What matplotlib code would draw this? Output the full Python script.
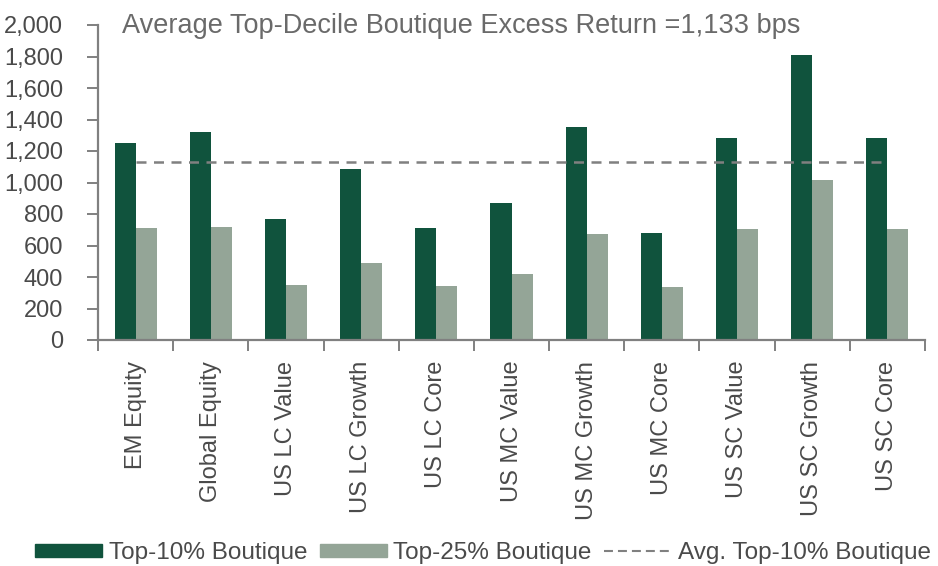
import matplotlib
matplotlib.use("Agg")
import matplotlib.pyplot as plt
import numpy as np
from matplotlib.lines import Line2D
from matplotlib.patches import Patch

categories = ["EM Equity", "Global Equity", "US LC Value", "US LC Growth", "US LC Core",
              "US MC Value", "US MC Growth", "US MC Core", "US SC Value", "US SC Growth", "US SC Core"]
top10 = [1250, 1320, 770, 1085, 710, 870, 1355, 680, 1285, 1810, 1285]
top25 = [710, 720, 350, 490, 340, 420, 670, 335, 705, 1015, 705]
avg_top10 = 1133
yticks = [0, 200, 400, 600, 800, 1000, 1200, 1400, 1600, 1800, 2000]

plt.rcParams["font.family"] = ["Liberation Sans", "DejaVu Sans"]

dark = "#10533d"
light = "#94a597"
grey = "#808080"
txt = "#4a4a4a"

fig = plt.figure(figsize=(9.38, 5.66), dpi=100)
ax = fig.add_axes([98/938, 1-340/566, (925-98)/938, (340-25)/566])

x = np.arange(len(categories))
w = 0.28
ax.bar(x - w/2, top10, width=w, color=dark, label="Top-10% Boutique")
ax.bar(x + w/2, top25, width=w, color=light, label="Top-25% Boutique")
ax.plot([x[0], x[-1]], [avg_top10, avg_top10], linestyle=(0, (4, 3)), color=grey, lw=1.8,
        label="Avg. Top-10% Boutique")

ax.set_xlim(-0.5, len(categories) - 0.5)
ax.set_ylim(0, 2000)
ax.set_yticks(yticks)
ax.set_yticklabels([f"{v:,}" for v in yticks])
ax.set_xticks(x)
ax.set_xticklabels(categories, rotation=90, va="top", ha="center")
ax.set_xticks(np.arange(-0.5, len(categories)), minor=True)

for s in ["top", "right"]:
    ax.spines[s].set_visible(False)
for s in ["left", "bottom"]:
    ax.spines[s].set_color(grey)
    ax.spines[s].set_linewidth(1.6)

ax.tick_params(axis="y", direction="out", length=8, width=1.4, color=grey, labelsize=17, labelcolor=txt, pad=17)
ax.tick_params(axis="x", which="major", length=0, labelsize=17, labelcolor=txt, pad=15)
ax.tick_params(axis="x", which="minor", direction="out", length=8, width=1.4, color=grey)

ax.text(122/938, 1-26/566, "Average Top-Decile Boutique Excess Return =1,133 bps",
        transform=fig.transFigure, fontsize=19.5, color="#6a6a6a", va="center", ha="left")

handles = [Patch(color=dark), Patch(color=light),
           Line2D([0], [0], color=grey, linestyle=(0, (4.3, 2.4)), lw=1.5)]
labels = ["Top-10% Boutique", "Top-25% Boutique", "Avg. Top-10% Boutique"]
leg = fig.legend(handles, labels, loc="center", bbox_to_anchor=(483/938, 1-553/566), ncol=3,
                 frameon=False, fontsize=17.5, handlelength=2.75, handleheight=0.45,
                 handletextpad=0.28, columnspacing=0.5, borderpad=0, borderaxespad=0)
for t in leg.get_texts():
    t.set_color(txt)

fig.savefig("out.png", dpi=100)
